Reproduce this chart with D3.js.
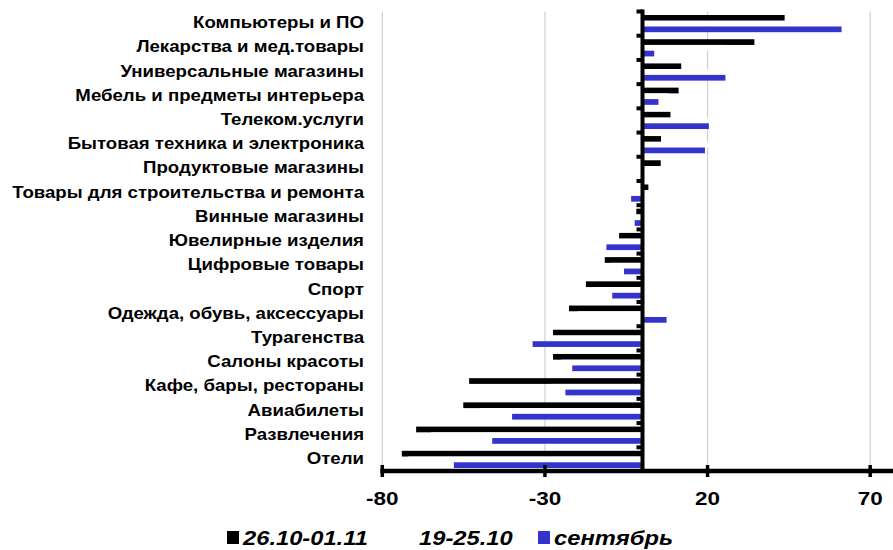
<!DOCTYPE html>
<html lang="ru">
  <head>
    <meta charset="utf-8" />
    <title>Изменение расходов по категориям</title>
    <script src="https://cdn.jsdelivr.net/npm/d3@7"></script>
    <style>
      body {
        margin: 0;
        background: #fff;
      }
      text {
        font-family: Arial, "Liberation Sans", sans-serif;
        font-weight: bold;
      }
    </style>
  </head>
  <body>
    <script>
      var w = 893;
      var h = 550;
      // the source picture is a little stretched sideways
      var stretch = 1.13;
      var catStretch = 1.165;
      var tickStretch = 1.25;

      // categories, top to bottom
      var categories = [
        "Компьютеры и ПО",
        "Лекарства и мед.товары",
        "Универсальные магазины",
        "Мебель и предметы интерьера",
        "Телеком.услуги",
        "Бытовая техника и электроника",
        "Продуктовые магазины",
        "Товары для строительства и ремонта",
        "Винные магазины",
        "Ювелирные изделия",
        "Цифровые товары",
        "Спорт",
        "Одежда, обувь, аксессуары",
        "Турагенства",
        "Салоны красоты",
        "Кафе, бары, рестораны",
        "Авиабилеты",
        "Развлечения",
        "Отели"
      ];

      var seriesNames = ["26.10-01.11", "19-25.10", "сентябрь"];
      var seriesColors = ["#000000", "#ffffff", "#3434cc"];

      // 26.10-01.11
      var week1 = [43.7, 34.4, 11.9, 11.1, 8.6, 5.7, 5.6, 1.8, -1.9, -7.2, -11.6, -17.4, -22.6, -27.5, -27.5, -53.3, -55.1, -69.6, -74.0];
      // 19-25.10 (white bars, only seen where they hide gridlines)
      var week2 = [50, 25, 22, 8, 21, 22, 4, 2, -2, -8, -10, -15, -20, -28, -25, -28, -50, -65, -72];
      // сентябрь
      var sept = [61.2, 3.6, 25.5, 4.9, 20.4, 19.2, 0, -3.5, -2.4, -11.1, -5.7, -9.3, 7.4, -33.8, -21.6, -23.7, -40.1, -46.2, -58.0];

      var xTicks = [-80, -30, 20, 70];

      var allSeries = [week1, week2, sept];

      var x = d3.scaleLinear().domain([-80, 80]).range([382.3, 902.7]);

      var y = d3
        .scaleBand()
        .domain(categories)
        .range([11.5, 471.5])
        .paddingInner(0.29)
        .paddingOuter(0.145);

      var ySub = d3
        .scaleBand()
        .domain(d3.range(seriesNames.length))
        .range([0, y.bandwidth()]);

      var svg = d3
        .select("body")
        .append("svg")
        .attr("width", w)
        .attr("height", h);

      //gridlines
      svg
        .selectAll("line.grid")
        .data(xTicks)
        .enter()
        .append("line")
        .attr("class", "grid")
        .attr("x1", function (d) {
          return x(d);
        })
        .attr("x2", function (d) {
          return x(d);
        })
        .attr("y1", 11.5)
        .attr("y2", 471.5)
        .attr("stroke", "#cfcfcf")
        .attr("stroke-width", 1.2);

      //bars, one group per series
      var groups = svg
        .selectAll("g.series")
        .data(allSeries)
        .enter()
        .append("g")
        .attr("class", "series")
        .attr("fill", function (d, i) {
          return seriesColors[i];
        });

      groups.each(function (vals, si) {
        d3.select(this)
          .selectAll("rect")
          .data(vals)
          .enter()
          .append("rect")
          .attr("x", function (d) {
            return x(Math.min(0, d));
          })
          .attr("y", function (d, i) {
            return y(categories[i]) + ySub(si);
          })
          .attr("width", function (d) {
            return Math.abs(x(d) - x(0));
          })
          .attr("height", ySub.bandwidth());
      });

      //vertical axis at zero with category ticks
      var x0 = x(0);
      svg
        .append("line")
        .attr("x1", x0)
        .attr("x2", x0)
        .attr("y1", 9.5)
        .attr("y2", 471.5)
        .attr("stroke", "#000")
        .attr("stroke-width", 4);

      var catTicks = categories.map(function (c) {
        return y(c) - (y.step() * y.paddingInner()) / 2;
      });
      svg
        .selectAll("line.ctick")
        .data(catTicks)
        .enter()
        .append("line")
        .attr("class", "ctick")
        .attr("x1", x0 - 6)
        .attr("x2", x0)
        .attr("y1", function (d) {
          return d;
        })
        .attr("y2", function (d) {
          return d;
        })
        .attr("stroke", "#000")
        .attr("stroke-width", 4);

      //category labels
      svg
        .selectAll("text.cat")
        .data(categories)
        .enter()
        .append("text")
        .attr("class", "cat")
        .attr("transform", function (d) {
          return (
            "translate(364," +
            (y(d) + y.bandwidth() / 2 - 1) +
            ") scale(" +
            catStretch +
            ",1)"
          );
        })
        .attr("dy", "0.35em")
        .attr("text-anchor", "end")
        .attr("font-size", 16)
        .text(function (d) {
          return d;
        });

      //horizontal axis
      svg
        .append("line")
        .attr("x1", x(-80) - 2)
        .attr("x2", w)
        .attr("y1", 471)
        .attr("y2", 471)
        .attr("stroke", "#000")
        .attr("stroke-width", 4.5);

      svg
        .selectAll("line.xtick")
        .data(xTicks)
        .enter()
        .append("line")
        .attr("class", "xtick")
        .attr("x1", function (d) {
          return x(d);
        })
        .attr("x2", function (d) {
          return x(d);
        })
        .attr("y1", 465)
        .attr("y2", 477)
        .attr("stroke", "#000")
        .attr("stroke-width", 3.5);

      svg
        .selectAll("text.xlab")
        .data(xTicks)
        .enter()
        .append("text")
        .attr("class", "xlab")
        .attr("transform", function (d) {
          return "translate(" + x(d) + ",505) scale(" + tickStretch + ",1)";
        })
        .attr("text-anchor", "middle")
        .attr("font-size", 18)
        .text(function (d) {
          return d;
        });

      //legend
      var legendX = [227, 403, 538];
      var legend = svg
        .selectAll("g.legend")
        .data(seriesNames)
        .enter()
        .append("g")
        .attr("class", "legend")
        .attr("transform", function (d, i) {
          return "translate(" + legendX[i] + ",0)";
        });

      legend
        .append("rect")
        .attr("x", 0)
        .attr("y", 531)
        .attr("width", 12)
        .attr("height", 13)
        .attr("fill", function (d, i) {
          return seriesColors[i];
        });

      legend
        .append("text")
        .attr("transform", "translate(16,545) scale(" + stretch + ",1)")
        .attr("font-size", 21)
        .attr("font-style", "italic")
        .text(function (d) {
          return d;
        });
    </script>
  </body>
</html>
